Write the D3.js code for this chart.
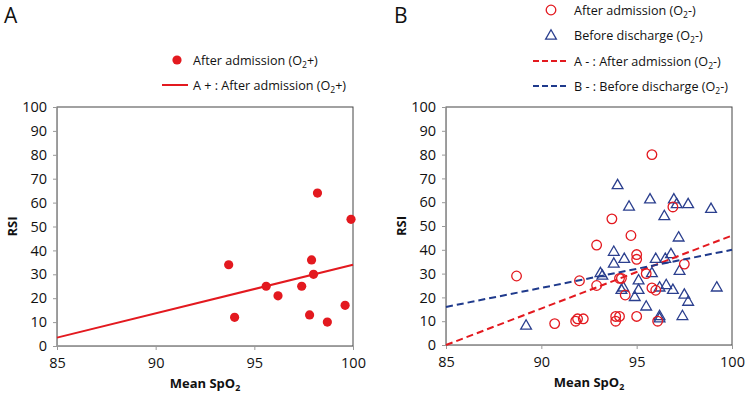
<!DOCTYPE html>
<html>
<head>
<meta charset="utf-8">
<script src="https://cdn.jsdelivr.net/npm/d3@7"></script>
<style>
  body { margin: 0; background: #fff; }
  svg { font-family: "Open Sans", "Noto Sans", sans-serif; }
</style>
</head>
<body>
<svg id="chart" width="746" height="397"></svg>
<script>
// panel A : after admission (O2+)
var aSpO2 = [93.7, 94.0, 95.6, 96.2, 97.4, 97.8, 97.9, 98.0, 98.2, 98.7, 99.6, 99.9]
var aRSI  = [34, 12, 25, 21, 25, 13, 36, 30, 64, 10, 17, 53]

// panel B : after admission (O2-)
var bAfterSpO2 = [88.7, 90.7, 91.8, 91.9, 92.2, 92.0, 92.9, 92.9, 93.7, 93.9, 93.9, 94.1, 94.1, 94.2, 94.4, 94.7, 95.0, 95.0, 95.0, 95.5, 95.8, 95.8, 96.0, 96.1, 96.9, 97.5]
var bAfterRSI  = [29, 9, 10, 11, 11, 27, 42, 25, 53, 10, 12, 12, 28, 28, 21, 46, 38, 36, 12, 30, 80, 24, 23, 10, 58, 34]

// panel B : before discharge (O2-)
var bBeforeSpO2 = [89.2, 93.1, 93.2, 93.8, 93.8, 94.0, 94.3, 94.2, 94.35, 94.6, 94.9, 95.1, 95.1, 95.5, 95.7, 95.8, 96.0, 96.2, 96.2, 96.2, 96.45, 96.55, 96.5, 96.8, 96.95, 97.1, 96.9, 97.2, 97.25, 97.5, 97.4, 97.7, 97.7, 98.9, 99.2]
var bBeforeRSI  = [8, 30, 29, 39, 34, 67, 24, 23, 36, 58, 20, 27, 23, 16, 61, 30, 36, 24, 12, 11, 54, 25, 36, 38, 61, 59, 23, 45, 31, 21, 12, 59, 18, 57, 24]

// trend lines (end points)
var trendA       = [[85, 3.5], [100, 34]]
var trendBAfter  = [[85, 0], [100, 46]]
var trendBBefore = [[85, 16], [100, 40]]

var xTicks = [85, 90, 95, 100]
var yTicks = [0, 10, 20, 30, 40, 50, 60, 70, 80, 90, 100]

var red = "#e3191f"
var blue = "#2b3f8e"
var svg = d3.select("#chart")

function zip(xs, ys) { return xs.map(function (x, i) { return [x, ys[i]] }) }

// label with subscript 2, e.g. "After admission (O", "+)"
function subText(g, x, y, before, after, opts) {
    var t = g.append("text")
        .attr("x", x).attr("y", y)
        .attr("font-size", opts.size)
        .attr("font-weight", opts.bold ? "bold" : "normal")
        .attr("text-anchor", opts.anchor || "start")
        .attr("fill", "#111")
    t.append("tspan").text(before)
    t.append("tspan").text("2").attr("font-size", opts.size * 0.68).attr("dy", opts.size * 0.2)
    t.append("tspan").text(after).attr("dy", -opts.size * 0.2)
    return t
}

function panel(box) {
    var x = d3.scaleLinear().domain([85, 100]).range([box.left, box.right])
    var y = d3.scaleLinear().domain([0, 100]).range([box.bottom, box.top])

    svg.append("rect")
        .attr("x", box.left).attr("y", box.top)
        .attr("width", box.right - box.left).attr("height", box.bottom - box.top)
        .attr("fill", "none").attr("stroke", "#444").attr("stroke-width", 1)

    var yAxis = svg.append("g")
        .attr("transform", "translate(" + box.left + ",0)")
        .call(d3.axisLeft(y).tickValues(yTicks).tickSize(4).tickSizeOuter(0).tickPadding(6))
    var xAxis = svg.append("g")
        .attr("transform", "translate(0," + box.bottom + ")")
        .call(d3.axisBottom(x).tickValues(xTicks).tickSize(4).tickSizeOuter(0).tickPadding(8))

    ;[yAxis, xAxis].forEach(function (a) {
        a.select(".domain").attr("stroke", "#999")
        a.selectAll(".tick line").attr("stroke", "#999")
        a.selectAll("text").attr("font-size", 14.5).attr("fill", "#111")
            .attr("font-family", "'Open Sans', sans-serif")
    })

    subText(svg, (box.left + box.right) / 2, box.bottom + 42, "Mean SpO", "", { size: 13, bold: true, anchor: "middle" })

    svg.append("text")
        .attr("transform", "translate(" + box.ylab + "," + ((box.top + box.bottom) / 2) + ") rotate(-90)")
        .attr("text-anchor", "middle")
        .attr("dy", "0.35em")
        .attr("font-size", 13).attr("font-weight", "bold").attr("fill", "#111")
        .text("RSI")

    return { x: x, y: y }
}

// ---------- panel A ----------
svg.append("text").attr("x", 4).attr("y", 23).attr("font-size", 21).attr("fill", "#111").text("A")
var pa = panel({ left: 57, right: 353, top: 107, bottom: 346, ylab: 12 })

var lineA = d3.line().x(function (d) { return pa.x(d[0]) }).y(function (d) { return pa.y(d[1]) })
svg.append("path").datum(trendA).attr("d", lineA)
    .attr("fill", "none").attr("stroke", red).attr("stroke-width", 2)

svg.append("g").selectAll("circle")
    .data(zip(aSpO2, aRSI))
    .enter().append("circle")
    .attr("cx", function (d) { return pa.x(d[0]) })
    .attr("cy", function (d) { return pa.y(d[1]) })
    .attr("r", 4.6)
    .attr("fill", red)

// legend A
svg.append("circle").attr("cx", 177).attr("cy", 60).attr("r", 4.6).attr("fill", red)
subText(svg, 193, 65, "After admission (O", "+)", { size: 12.6 })
svg.append("line").attr("x1", 162).attr("x2", 188).attr("y1", 85).attr("y2", 85)
    .attr("stroke", red).attr("stroke-width", 2)
subText(svg, 193, 90, "A + : After admission (O", "+)", { size: 12.6 })

// ---------- panel B ----------
svg.append("text").attr("x", 394).attr("y", 23).attr("font-size", 21).attr("fill", "#111").text("B")
var pb = panel({ left: 446, right: 732, top: 107, bottom: 345, ylab: 401 })

var lineB = d3.line().x(function (d) { return pb.x(d[0]) }).y(function (d) { return pb.y(d[1]) })

var tri = d3.symbol().type(d3.symbolTriangle).size(50)

svg.append("g").selectAll("path")
    .data(zip(bBeforeSpO2, bBeforeRSI))
    .enter().append("path")
    .attr("d", tri)
    .attr("transform", function (d) { return "translate(" + pb.x(d[0]) + "," + pb.y(d[1]) + ")" })
    .attr("fill", "none").attr("stroke", blue).attr("stroke-width", 1.3)

svg.append("g").selectAll("circle")
    .data(zip(bAfterSpO2, bAfterRSI))
    .enter().append("circle")
    .attr("cx", function (d) { return pb.x(d[0]) })
    .attr("cy", function (d) { return pb.y(d[1]) })
    .attr("r", 4.8)
    .attr("fill", "none").attr("stroke", red).attr("stroke-width", 1.3)

svg.append("path").datum(trendBAfter).attr("d", lineB)
    .attr("fill", "none").attr("stroke", red).attr("stroke-width", 2).attr("stroke-dasharray", "7,4")
svg.append("path").datum(trendBBefore).attr("d", lineB)
    .attr("fill", "none").attr("stroke", "#1f3a8c").attr("stroke-width", 2).attr("stroke-dasharray", "7,4")

// legend B
svg.append("circle").attr("cx", 551).attr("cy", 10).attr("r", 4.8)
    .attr("fill", "none").attr("stroke", red).attr("stroke-width", 1.3)
subText(svg, 574, 15, "After admission (O", "-)", { size: 12.6 })
svg.append("path").attr("d", tri).attr("transform", "translate(551,36)")
    .attr("fill", "none").attr("stroke", blue).attr("stroke-width", 1.3)
subText(svg, 574, 40, "Before discharge (O", "-)", { size: 12.6 })
svg.append("line").attr("x1", 533).attr("x2", 568).attr("y1", 61).attr("y2", 61)
    .attr("stroke", red).attr("stroke-width", 2).attr("stroke-dasharray", "6,3")
subText(svg, 574, 66, "A - : After admission (O", "-)", { size: 12.6 })
svg.append("line").attr("x1", 533).attr("x2", 568).attr("y1", 86).attr("y2", 86)
    .attr("stroke", "#1f3a8c").attr("stroke-width", 2).attr("stroke-dasharray", "6,3")
subText(svg, 574, 91, "B - : Before discharge (O", "-)", { size: 12.6 })
</script>
</body>
</html>
